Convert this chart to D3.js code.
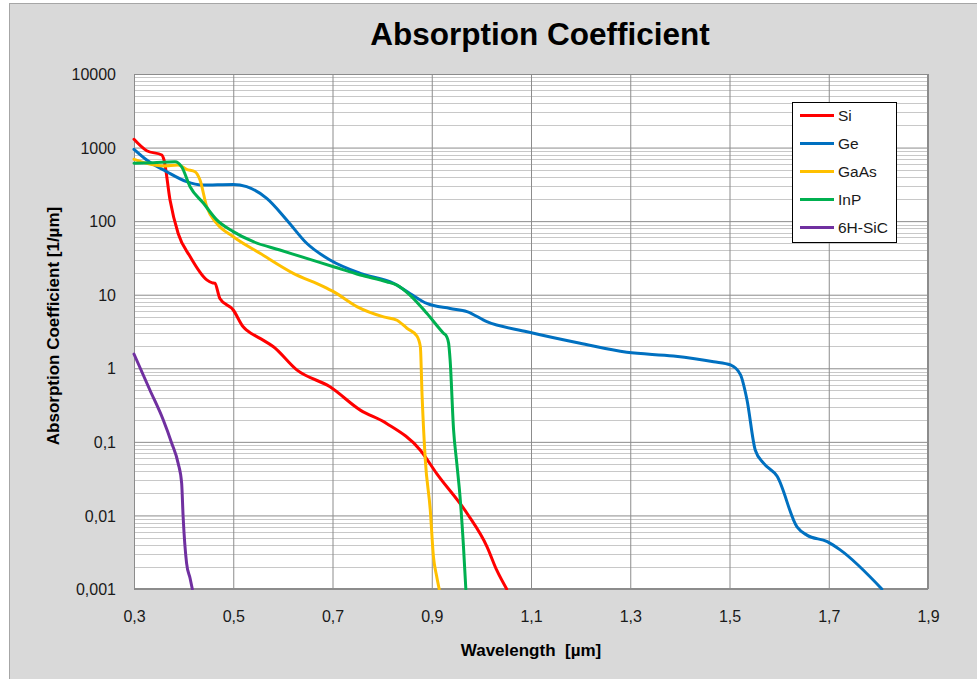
<!DOCTYPE html>
<html>
<head>
<meta charset="utf-8">
<script src="https://cdn.jsdelivr.net/npm/d3@7"></script>
<style>
  html, body { margin: 0; padding: 0; background: #ffffff; }
  svg { display: block; font-family: "Liberation Sans", Arial, sans-serif; }
</style>
</head>
<body>
<svg id="chart" width="977" height="679"></svg>
<script>
// ---- Data ----
const title = "Absorption Coefficient";
const xTitle = "Wavelength  [µm]";
const yTitle = "Absorption Coefficient [1/µm]";

const xTicks = [0.3, 0.5, 0.7, 0.9, 1.1, 1.3, 1.5, 1.7, 1.9];
const yTicks = [10000, 1000, 100, 10, 1, 0.1, 0.01, 0.001];
const yTickLabels = ["10000", "1000", "100", "10", "1", "0,1", "0,01", "0,001"];

const seriesNames = ["Si", "Ge", "GaAs", "InP", "6H-SiC"];
const seriesColors = ["#ff0000", "#0070c0", "#ffc000", "#00b050", "#7030a0"];

const siX = [0.3, 0.3256, 0.356, 0.3605, 0.3726, 0.389, 0.413, 0.4466, 0.458, 0.463, 0.473, 0.5, 0.52, 0.527, 0.554, 0.581, 0.628, 0.695, 0.756, 0.809, 0.877, 0.910, 0.971, 1.011, 1.031, 1.051];
const siY = [1295, 906, 792, 678, 194, 68, 33, 15.9, 14.5, 14.3, 8.9, 6.2, 3.67, 3.3, 2.55, 1.96, 0.95, 0.56, 0.27, 0.178, 0.077, 0.037, 0.0107, 0.0038, 0.0018, 0.001];

const geX = [0.3, 0.3256, 0.366, 0.406, 0.4365, 0.5, 0.527, 0.5675, 0.6077, 0.648, 0.695, 0.756, 0.823, 0.856, 0.890, 0.937, 0.971, 1.011, 1.092, 1.199, 1.293, 1.387, 1.468, 1.502, 1.522, 1.535, 1.552, 1.569, 1.596, 1.636, 1.656, 1.697, 1.723, 1.807];
const geY = [946, 678, 470, 344, 310, 316, 294, 204, 104, 50, 29.6, 19.5, 14.3, 10.4, 7.6, 6.5, 5.9, 4.3, 3.14, 2.19, 1.65, 1.47, 1.23, 1.11, 0.82, 0.38, 0.077, 0.051, 0.034, 0.007, 0.0054, 0.0044, 0.0034, 0.001];

const gaasX = [0.3, 0.3256, 0.359, 0.389, 0.406, 0.423, 0.433, 0.4466, 0.4667, 0.5, 0.554, 0.621, 0.682, 0.702, 0.749, 0.803, 0.83, 0.85, 0.87, 0.877, 0.8805, 0.887, 0.897, 0.9034, 0.910, 0.915];
const gaasY = [692, 611, 562, 580, 506, 470, 362, 157, 93, 61.5, 36.5, 19.5, 12.9, 11, 6.9, 5.0, 4.5, 3.5, 2.75, 1.97, 0.43, 0.057, 0.0119, 0.00275, 0.00148, 0.001];

const inpX = [0.3, 0.339, 0.3827, 0.396, 0.413, 0.44, 0.4667, 0.5, 0.5405, 0.594, 0.648, 0.702, 0.756, 0.809, 0.83, 0.856, 0.89, 0.9236, 0.93, 0.934, 0.937, 0.944, 0.9505, 0.957, 0.9639, 0.9687];
const inpY = [611, 622, 642, 549, 294, 175, 104, 72, 52.5, 40.5, 31.2, 24, 18.5, 15, 13.5, 9.9, 5.6, 3.0, 2.7, 2.19, 1.3, 0.145, 0.051, 0.018, 0.0038, 0.001];

const sicX = [0.3, 0.332, 0.359, 0.376, 0.389, 0.396, 0.399, 0.406, 0.413, 0.4175];
const sicY = [1.56, 0.507, 0.198, 0.096, 0.051, 0.0274, 0.0096, 0.00223, 0.0014, 0.001];

const seriesX = [siX, geX, gaasX, inpX, sicX];
const seriesY = [siY, geY, gaasY, inpY, sicY];

// ---- Layout ----
const svg = d3.select("#chart");
const W = 977, H = 679;
const plot = { left: 134, right: 928, top: 74, bottom: 589 };

const x = d3.scaleLinear().domain([0.3, 1.9]).range([plot.left, plot.right]);
const y = d3.scaleLog().domain([0.001, 10000]).range([plot.bottom, plot.top]);

const fmtX = v => d3.format(".1f")(v).replace(".", ",");

// chart area background
svg.append("rect")
  .attr("x", 9.5).attr("y", 3.5)
  .attr("width", W).attr("height", H)
  .attr("fill", "#d9d9d9")
  .attr("stroke", "#a6a6a6").attr("stroke-width", 1);

// plot area
svg.append("rect")
  .attr("x", plot.left).attr("y", plot.top)
  .attr("width", plot.right - plot.left).attr("height", plot.bottom - plot.top)
  .attr("fill", "#ffffff");

// minor horizontal gridlines
const minorVals = [];
for (let e = -3; e < 4; e++) {
  for (let m = 2; m <= 9; m++) minorVals.push(m * Math.pow(10, e));
}
svg.append("g")
  .selectAll("line").data(minorVals).join("line")
  .attr("x1", plot.left).attr("x2", plot.right)
  .attr("y1", d => Math.round(y(d)) + 0.5).attr("y2", d => Math.round(y(d)) + 0.5)
  .attr("stroke", "#c8c8c8").attr("stroke-width", 1);

// major horizontal gridlines via axis
const yAxis = d3.axisLeft(y).tickValues(yTicks)
  .tickFormat((d, i) => yTickLabels[i])
  .tickSize(-(plot.right - plot.left)).tickPadding(18);
const gy = svg.append("g").attr("transform", `translate(${plot.left},0)`).call(yAxis);
gy.select(".domain").remove();
gy.selectAll(".tick line").attr("stroke", "#8c8c8c").attr("stroke-width", 1);
gy.selectAll(".tick text")
  .attr("fill", "#1a1a1a").attr("font-size", "16px")
  .attr("font-family", "Liberation Sans, Arial, sans-serif")
  .attr("dy", "0.35em");

// vertical gridlines via axis
const xAxis = d3.axisBottom(x).tickValues(xTicks).tickFormat(fmtX)
  .tickSize(-(plot.bottom - plot.top)).tickPadding(22);
const gx = svg.append("g").attr("transform", `translate(0,${plot.bottom})`).call(xAxis);
gx.select(".domain").remove();
gx.selectAll(".tick line").attr("stroke", "#8c8c8c").attr("stroke-width", 1);
gx.selectAll(".tick text")
  .attr("fill", "#1a1a1a").attr("font-size", "16px")
  .attr("font-family", "Liberation Sans, Arial, sans-serif");

// plot border
svg.append("rect")
  .attr("x", plot.left + 0.5).attr("y", plot.top + 0.5)
  .attr("width", plot.right - plot.left - 1).attr("height", plot.bottom - plot.top - 1)
  .attr("fill", "none").attr("stroke", "#8c8c8c").attr("stroke-width", 1);

// series
const line = d3.line()
  .x(d => x(d[0])).y(d => y(d[1]))
  .curve(d3.curveMonotoneX);

const clip = svg.append("clipPath").attr("id", "plotclip")
  .append("rect").attr("x", plot.left - 2).attr("y", plot.top)
  .attr("width", plot.right - plot.left + 4).attr("height", plot.bottom - plot.top + 1);

const gLines = svg.append("g").attr("clip-path", "url(#plotclip)");
seriesNames.forEach((name, i) => {
  const pts = seriesX[i].map((v, j) => [v, seriesY[i][j]]);
  gLines.append("path")
    .datum(pts)
    .attr("d", line)
    .attr("fill", "none")
    .attr("stroke", seriesColors[i])
    .attr("stroke-width", 3)
    .attr("stroke-linejoin", "round")
    .attr("stroke-linecap", "round");
});

// title
svg.append("text")
  .attr("x", 540).attr("y", 45)
  .attr("text-anchor", "middle")
  .attr("font-size", "31.5px").attr("font-weight", "bold")
  .attr("fill", "#000")
  .text(title);

// axis titles
svg.append("text")
  .attr("x", 531).attr("y", 656)
  .attr("text-anchor", "middle")
  .attr("font-size", "17px").attr("font-weight", "bold")
  .attr("fill", "#000")
  .attr("xml:space", "preserve")
  .style("white-space", "pre")
  .text(xTitle);

svg.append("text")
  .attr("transform", "translate(59,326) rotate(-90)")
  .attr("text-anchor", "middle")
  .attr("font-size", "17px").attr("font-weight", "bold")
  .attr("fill", "#000")
  .text(yTitle);

// legend
const lg = svg.append("g");
lg.append("rect")
  .attr("x", 792.5).attr("y", 102.5)
  .attr("width", 104).attr("height", 140)
  .attr("fill", "#ffffff").attr("stroke", "#000").attr("stroke-width", 1);
seriesNames.forEach((name, i) => {
  const ly = 115.5 + i * 28;
  lg.append("line")
    .attr("x1", 800).attr("x2", 834)
    .attr("y1", ly).attr("y2", ly)
    .attr("stroke", seriesColors[i]).attr("stroke-width", 3);
  lg.append("text")
    .attr("x", 838).attr("y", ly)
    .attr("dy", "0.35em")
    .attr("font-size", "15.5px")
    .attr("fill", "#1a1a1a")
    .text(name);
});
</script>
</body>
</html>
